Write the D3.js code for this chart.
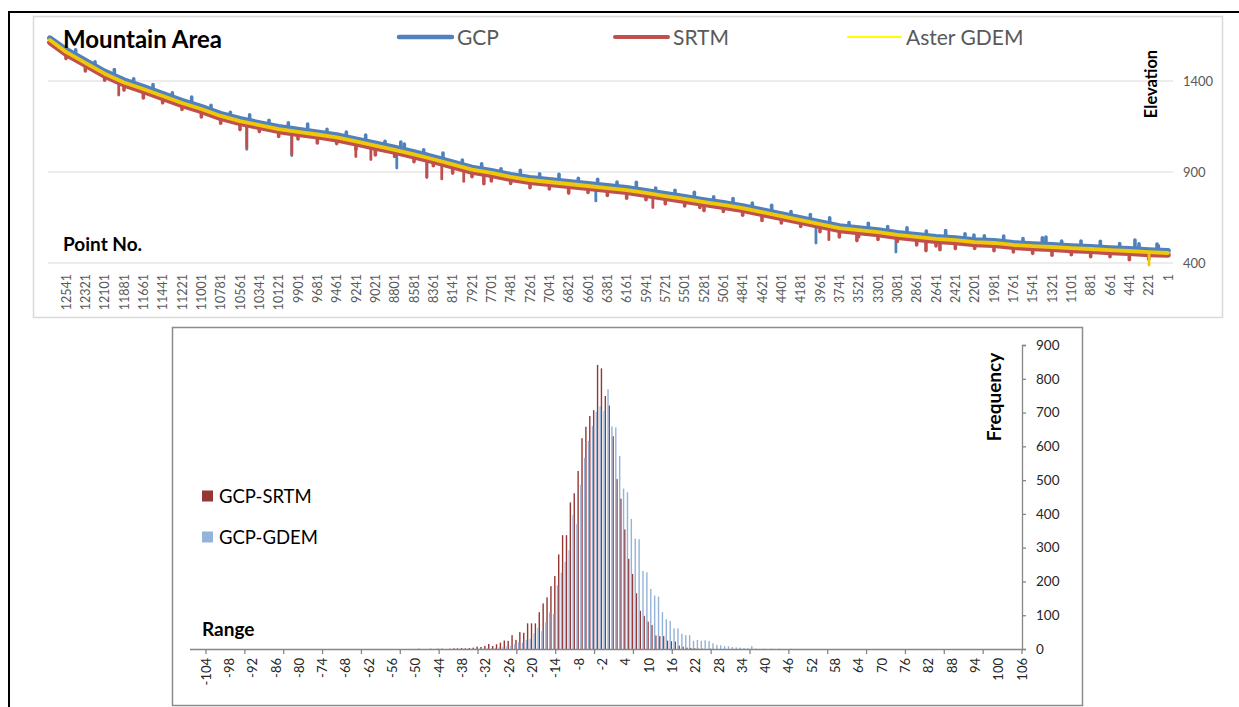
<!DOCTYPE html>
<html>
<head>
<meta charset="utf-8">
<script src="https://cdn.jsdelivr.net/npm/d3@7/dist/d3.min.js"></script>
<style>
  body { margin: 0; background: #fff; }
  svg { display: block; font-family: Lato, "Open Sans", sans-serif; }
</style>
</head>
<body>
<div id="chart"></div>
<script>
// ---- top chart : elevation along the profile (point no. runs right to left)
const pointTicks = [12541, 12321, 12101, 11881, 11661, 11441, 11221, 11001, 10781, 10561, 10341, 10121,
  9901, 9681, 9461, 9241, 9021, 8801, 8581, 8361, 8141, 7921, 7701, 7481, 7261, 7041, 6821, 6601,
  6381, 6161, 5941, 5721, 5501, 5281, 5061, 4841, 4621, 4401, 4181, 3961, 3741, 3521, 3301, 3081,
  2861, 2641, 2421, 2201, 1981, 1761, 1541, 1321, 1101, 881, 661, 441, 221, 1];
const pointNo = [12725].concat(pointTicks);

const gcp = [1636, 1573, 1513, 1453, 1405, 1369, 1331, 1292, 1259, 1221, 1193, 1170, 1149, 1133, 1119,
  1103, 1080, 1058, 1035, 1010, 983, 954, 925, 907, 885, 868, 857, 846, 835, 824, 813, 797, 780, 764,
  747, 731, 714, 692, 670, 648, 626, 604, 593, 582, 566, 555, 544, 538, 527, 522, 511, 505, 500, 494,
  489, 483, 478, 472, 467];
const srtm = [1612, 1547, 1487, 1427, 1379, 1343, 1305, 1266, 1233, 1195, 1167, 1145, 1123, 1107, 1093,
  1077, 1055, 1032, 1009, 984, 957, 929, 900, 882, 860, 843, 832, 821, 810, 799, 788, 772, 755, 739,
  722, 706, 689, 667, 645, 623, 601, 579, 568, 557, 541, 530, 519, 513, 502, 497, 486, 480, 475, 469,
  464, 458, 453, 447, 444];
const aster = [1625, 1560, 1500, 1440, 1392, 1356, 1318, 1279, 1246, 1208, 1180, 1158, 1136, 1120, 1106,
  1090, 1068, 1045, 1022, 997, 970, 942, 913, 895, 873, 856, 845, 834, 823, 812, 801, 785, 768, 752,
  735, 719, 702, 680, 658, 636, 614, 592, 581, 570, 554, 543, 532, 526, 515, 510, 499, 493, 488, 482,
  477, 471, 466, 460, 455];

// spikes off the band: [point no., from, to]
const gcpSpikes = [[10484, 1182, 1025], [9972, 1138, 990], [8777, 1033, 922], [8435, 1000, 872],
  [6512, 831, 741], [4007, 632, 510], [3097, 570, 460], [8731, 1028, 1065], [2209, 528, 554],
  [1390, 503, 543], [377, 478, 526], [126, 472, 504],
  [12431, 1543, 1571], [12211, 1483, 1505], [11991, 1429, 1463], [11771, 1387, 1412], [11551, 1350, 1380],
  [11331, 1312, 1335], [11111, 1276, 1312], [10891, 1240, 1266], [10671, 1207, 1228], [10451, 1182, 1214],
  [10231, 1160, 1184], [10011, 1141, 1170], [9791, 1126, 1164], [9571, 1111, 1134], [9351, 1092, 1119],
  [9131, 1070, 1103], [8911, 1047, 1069], [8691, 1023, 1053], [8471, 997, 1022], [8251, 969, 1004],
  [8031, 941, 965], [7811, 917, 945], [7591, 897, 918], [7371, 878, 909], [7151, 864, 890],
  [6931, 853, 887], [6711, 842, 865], [6491, 831, 860], [6271, 820, 845], [6051, 806, 843],
  [5831, 790, 812], [5611, 773, 800], [5391, 757, 789], [5171, 740, 764], [4951, 724, 754],
  [4731, 704, 730], [4511, 682, 717], [4291, 660, 683], [4071, 638, 666], [3851, 616, 649],
  [3631, 600, 622], [3411, 589, 618], [3191, 575, 600], [2971, 562, 593], [2751, 551, 575],
  [2531, 542, 578], [2311, 534, 561], [2091, 526, 549], [1871, 518, 548], [1651, 509, 535],
  [1431, 504, 538], [1211, 498, 520], [991, 493, 521], [771, 487, 519], [551, 482, 507],
  [331, 476, 505], [111, 471, 495]];
const srtmSpikes = [[11941, 1387, 1323], [10484, 1156, 1035], [9972, 1112, 999], [9243, 1055, 985],
  [9072, 1037, 968], [8435, 975, 870], [8265, 957, 862], [8015, 914, 848], [7786, 891, 836],
  [5863, 777, 705], [5328, 725, 705], [3860, 591, 528], [3541, 570, 523], [2755, 527, 468],
  [2596, 520, 473],
  [12541, 1547, 1523], [12321, 1487, 1455], [12101, 1427, 1404], [11881, 1379, 1350], [11661, 1343, 1307],
  [11441, 1305, 1280], [11221, 1266, 1244], [11001, 1233, 1202], [10781, 1195, 1168], [10561, 1167, 1133],
  [10341, 1145, 1122], [10121, 1123, 1095], [9901, 1107, 1081], [9681, 1093, 1060], [9461, 1077, 1056],
  [9241, 1055, 1025], [9021, 1032, 994], [8801, 1009, 985], [8581, 984, 957], [8361, 957, 935],
  [8141, 929, 894], [7921, 900, 874], [7701, 882, 851], [7481, 860, 837], [7261, 843, 814],
  [7041, 832, 807], [6821, 821, 784], [6601, 810, 788], [6381, 799, 771], [6161, 788, 756],
  [5941, 772, 748], [5721, 755, 725], [5501, 739, 713], [5281, 722, 688], [5061, 706, 683],
  [4841, 689, 662], [4621, 667, 634], [4401, 645, 620], [4181, 623, 601], [3961, 601, 572],
  [3741, 579, 543], [3521, 568, 544], [3301, 557, 529], [3081, 541, 518], [2861, 530, 499],
  [2641, 519, 493], [2421, 513, 479], [2201, 502, 480], [1981, 497, 467], [1761, 486, 461],
  [1541, 480, 453], [1321, 475, 443], [1101, 469, 446], [881, 464, 435], [661, 458, 434],
  [441, 453, 418], [221, 447, 421]];
const asterSpikes = [[217, 460, 389]];

const elevTicks = [400, 900, 1400];

// ---- bottom chart : histogram of the differences
const rangeBins = [-50, -49, -48, -47, -46, -45, -44, -43, -42, -41, -40, -39, -38, -37, -36, -35, -34,
  -33, -32, -31, -30, -29, -28, -27, -26, -25, -24, -23, -22, -21, -20, -19, -18, -17, -16, -15, -14,
  -13, -12, -11, -10, -9, -8, -7, -6, -5, -4, -3, -2, -1, 0, 1, 2, 3, 4, 5, 6, 7, 8, 9, 10, 11, 12,
  13, 14, 15, 16, 17, 18, 19, 20, 21, 22, 23, 24, 25, 26, 27, 28, 29, 30, 31, 32, 33, 34, 35, 36, 37,
  38, 39, 40, 41, 42, 43, 44, 45, 46, 47, 48, 49, 50];
const srtmFreq = [0, 1, 0, 0, 1, 0, 1, 1, 0, 1,
  2, 2, 3, 2, 3, 4, 7, 6, 9, 15,
  9, 14, 19, 25, 24, 41, 27, 50, 48, 76,
  76, 76, 109, 135, 153, 186, 216, 280, 337, 337,
  434, 461, 527, 624, 658, 690, 707, 841, 831, 749,
  721, 630, 503, 445, 354, 267, 222, 165, 113, 98,
  81, 71, 40, 38, 38, 25, 23, 22, 10, 7,
  4, 3, 2, 1, 1, 0, 1, 0, 0, 0,
  0, 0, 0, 0, 0, 0, 0, 0, 0, 0,
  0, 0, 0, 0, 0, 0, 0, 0, 0, 0,
  0];
const gdemFreq = [0, 0, 0, 0, 0, 1, 0, 0, 0, 0,
  1, 0, 1, 0, 1, 1, 1, 1, 2, 2,
  3, 5, 6, 9, 10, 14, 20, 19, 27, 30,
  46, 63, 53, 79, 108, 104, 189, 226, 258, 293,
  397, 370, 486, 566, 616, 660, 702, 719, 705, 769,
  659, 656, 571, 475, 464, 385, 327, 325, 231, 227,
  178, 158, 155, 109, 88, 83, 61, 61, 45, 41,
  41, 24, 27, 24, 26, 24, 17, 12, 11, 9,
  8, 6, 5, 4, 3, 2, 9, 1, 0, 1,
  0, 1, 0, 1, 0, 0, 1, 0, 0, 0,
  0];
const rangeLabels = [-104, -98, -92, -86, -80, -74, -68, -62, -56, -50, -44, -38, -32, -26, -20, -14,
  -8, -2, 4, 10, 16, 22, 28, 34, 40, 46, 52, 58, 64, 70, 76, 82, 88, 94, 100, 106];
const freqTicks = [0, 100, 200, 300, 400, 500, 600, 700, 800, 900];


const W = 1239, H = 707;
const svg = d3.select("#chart").append("svg").attr("width", W).attr("height", H);
svg.append("rect").attr("width", W).attr("height", H).attr("fill", "#fff");

// outer frame (only top and left edges show)
svg.append("line").attr("x1", 8).attr("x2", W).attr("y1", 12).attr("y2", 12)
  .attr("stroke", "#000").attr("stroke-width", 2);
svg.append("line").attr("x1", 9).attr("x2", 9).attr("y1", 12).attr("y2", H)
  .attr("stroke", "#000").attr("stroke-width", 2);

drawProfile();
drawHistogram();

function drawProfile() {
  svg.append("rect").attr("x", 33.5).attr("y", 16.5).attr("width", 1189).attr("height", 301)
    .attr("fill", "#fff").attr("stroke", "#d9d9d9").attr("stroke-width", 1.5);

  let x = d3.scaleLinear().domain([12541, 1]).range([66, 1168]);
  let y = d3.scaleLinear().domain([400, 1400]).range([263, 81]);

  // gridlines + right hand labels
  svg.append("g").selectAll("line").data(elevTicks).join("line")
    .attr("x1", 48).attr("x2", 1173)
    .attr("y1", d => y(d)).attr("y2", d => y(d))
    .attr("stroke", "#d9d9d9").attr("stroke-width", 1.2);
  svg.append("g").selectAll("text").data(elevTicks).join("text")
    .attr("x", 1183).attr("y", d => y(d)).attr("dy", "0.36em")
    .style("font-size", "13px").attr("fill", "#595959")
    .text(d => d);

  svg.append("g").selectAll("text").data(pointTicks).join("text")
    .attr("transform", d => "translate(" + (x(d) + 4.5) + ",274) rotate(-90)")
    .attr("text-anchor", "end")
    .style("font-size", "12.5px").attr("fill", "#595959")
    .text(d => d);

  let line = d3.line().x(d => x(d[0])).y(d => y(d[1]));

  let series = [
    { values: gcp, spikes: gcpSpikes, color: "#4f81bd", w: 5.5 },
    { values: srtm, spikes: srtmSpikes, color: "#c0504d", w: 5.5 },
    { values: aster, spikes: asterSpikes, color: "#f0c808", w: 3.8 }
  ];
  series.forEach(function(s) {
    let g = svg.append("g");
    g.selectAll(".spike").data(s.spikes).join("path")
      .attr("class", "spike")
      .attr("d", d => line([[d[0], d[1]], [d[0], d[2]]]))
      .attr("fill", "none").attr("stroke", s.color)
      .attr("stroke-width", d => Math.abs(d[2] - d[1]) > 60 ? 2.8 : 3.6)
      .attr("stroke-linecap", "round");
    g.append("path")
      .attr("d", line(pointNo.map((p, i) => [p, s.values[i]])))
      .attr("fill", "none").attr("stroke", s.color).attr("stroke-width", s.w)
      .attr("stroke-linejoin", "round").attr("stroke-linecap", "round");
  });

  // titles
  svg.append("text").attr("x", 63).attr("y", 48)
    .style("font-size", "24px").style("font-weight", "bold").text("Mountain Area");
  svg.append("text").attr("x", 63).attr("y", 251)
    .style("font-size", "19px").style("font-weight", "bold").text("Point No.");
  svg.append("text").attr("transform", "translate(1157,84) rotate(-90)")
    .attr("text-anchor", "middle")
    .style("font-size", "16.5px").style("font-weight", "bold").text("Elevation");

  // legend
  let legend = [
    { name: "GCP", x: 399, color: "#4f81bd", w: 4.5 },
    { name: "SRTM", x: 615, color: "#c0504d", w: 4 },
    { name: "Aster GDEM", x: 848, color: "#ffff00", w: 2 }
  ];
  let lg = svg.append("g").selectAll("g").data(legend).join("g")
    .attr("transform", d => "translate(" + d.x + ",37)");
  lg.append("line").attr("x1", 0).attr("x2", 53)
    .attr("stroke", d => d.color).attr("stroke-width", d => d.w).attr("stroke-linecap", "round");
  lg.append("text").attr("x", 58).attr("dy", "0.36em")
    .style("font-size", "21px").attr("fill", "#595959").text(d => d.name);
}

function drawHistogram() {
  svg.append("rect").attr("x", 172.5).attr("y", 327.5).attr("width", 910).attr("height", 378)
    .attr("fill", "#fff").attr("stroke", "#8c8c8c").attr("stroke-width", 1.5);

  let x = d3.scaleLinear().domain([-104, 106]).range([206, 1022]);
  let y = d3.scaleLinear().domain([0, 900]).range([649, 345]);

  let bars = svg.append("g");
  bars.selectAll(".srtm").data(rangeBins.map((c, i) => [c, srtmFreq[i]]).filter(d => d[1] > 0))
    .join("rect").attr("class", "srtm")
    .attr("x", d => x(d[0]) - 1.6).attr("width", 1.4)
    .attr("y", d => y(d[1])).attr("height", d => y(0) - y(d[1]))
    .attr("fill", "#953735");
  bars.selectAll(".gdem").data(rangeBins.map((c, i) => [c, gdemFreq[i]]).filter(d => d[1] > 0))
    .join("rect").attr("class", "gdem")
    .attr("x", d => x(d[0]) + 1.1).attr("width", 1.4)
    .attr("y", d => y(d[1])).attr("height", d => y(0) - y(d[1]))
    .attr("fill", "#95b3d7");

  // x axis: marks every 10 classes, labels every 6
  svg.append("line").attr("x1", 190).attr("x2", 1022).attr("y1", 649.5).attr("y2", 649.5)
    .attr("stroke", "#868686").attr("stroke-width", 1.3);
  svg.append("g").selectAll("line").data(d3.range(-104, 107, 10)).join("line")
    .attr("x1", d => x(d)).attr("x2", d => x(d)).attr("y1", 649).attr("y2", 654)
    .attr("stroke", "#868686").attr("stroke-width", 1.3);
  svg.append("g").selectAll("text").data(rangeLabels).join("text")
    .attr("transform", d => "translate(" + (x(d) + 4.6) + ",658) rotate(-90)")
    .attr("text-anchor", "end")
    .style("font-size", "13px").attr("fill", "#262626")
    .text(d => d);

  // y axis on the right
  let yAxis = d3.axisRight(y).tickValues(freqTicks).tickSize(4).tickPadding(10);
  let ya = svg.append("g").attr("transform", "translate(1022,0)").call(yAxis);
  ya.select(".domain").attr("stroke", "#868686").attr("stroke-width", 1.3);
  ya.selectAll(".tick line").attr("stroke", "#868686").attr("stroke-width", 1.3);
  ya.selectAll(".tick text").style("font-size", "13.5px").style("font-family", "Lato, sans-serif")
    .attr("fill", "#262626");

  svg.append("text").attr("transform", "translate(1001,397) rotate(-90)")
    .attr("text-anchor", "middle")
    .style("font-size", "19px").style("font-weight", "bold").text("Frequency");
  svg.append("text").attr("x", 202).attr("y", 636)
    .style("font-size", "19px").style("font-weight", "bold").text("Range");

  // legend
  let legend = [
    { name: "GCP-SRTM", y: 496, color: "#943634" },
    { name: "GCP-GDEM", y: 537, color: "#95b3d7" }
  ];
  let lg = svg.append("g").selectAll("g").data(legend).join("g")
    .attr("transform", d => "translate(202," + d.y + ")");
  lg.append("rect").attr("y", -5.5).attr("width", 11).attr("height", 11).attr("fill", d => d.color);
  lg.append("text").attr("x", 17).attr("dy", "0.36em")
    .style("font-size", "18.5px").attr("fill", "#000").text(d => d.name);
}
</script>
</body>
</html>
